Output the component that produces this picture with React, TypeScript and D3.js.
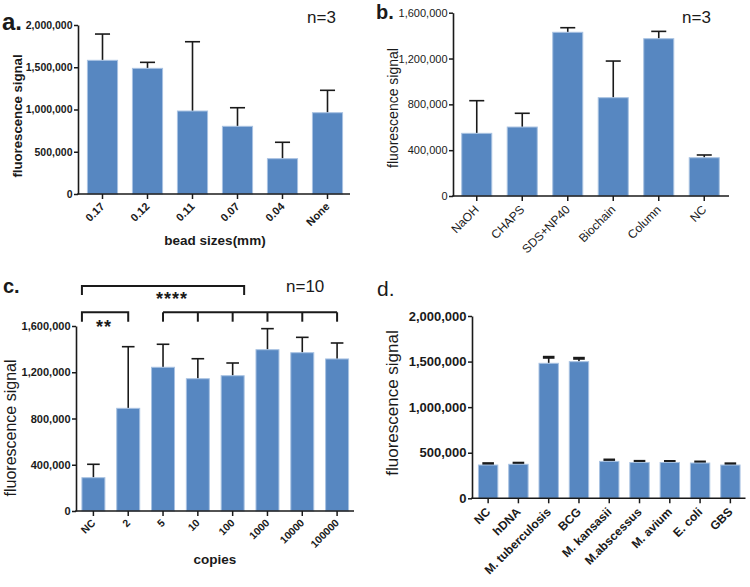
import React, { useRef, useEffect } from "react";
import * as d3 from "d3";

const FONT = "'Liberation Sans', Arial, Helvetica, sans-serif";
const BAR_FILL = "#5787c1";
const BAR_EDGE = "#a8c2e2";
const INK = "#1a1a1a";

// a. bead sizes
const beadSizes = ["0.17", "0.12", "0.11", "0.07", "0.04", "None"];
const beadMeans = [1582000, 1487000, 982000, 801000, 418000, 962000];
const beadSD = [311000, 71000, 820000, 220000, 194000, 265000];
const beadTicks = [0, 500000, 1000000, 1500000, 2000000];

// b. lysis methods
const lysis = ["NaOH", "CHAPS", "SDS+NP40", "Biochain", "Column", "NC"];
const lysisMeans = [547000, 602000, 1429000, 858000, 1373000, 334000];
const lysisSD = [285000, 120000, 40000, 320000, 64000, 24000];
const lysisTicks = [0, 400000, 800000, 1200000, 1600000];

// c. copies
const copies = ["NC", "2", "5", "10", "100", "1000", "10000", "100000"];
const copiesMeans = [288000, 888000, 1243000, 1144000, 1170000, 1395000, 1369000, 1315000];
const copiesSD = [116000, 533000, 199000, 173000, 110000, 182000, 133000, 138000];
const copiesTicks = [0, 400000, 800000, 1200000, 1600000];

// d. specificity
const species = ["NC", "hDNA", "M. tuberculosis", "BCG", "M. kansasii", "M.abscessus", "M. avium", "E. coli", "GBS"];
const speciesMeans = [365000, 373000, 1481000, 1499000, 405000, 393000, 393000, 387000, 365000];
const speciesSD = [15000, 12000, 66000, 37000, 15000, 12000, 11000, 11000, 13000];
const speciesTicks = [0, 500000, 1000000, 1500000, 2000000];

const drawPanel = (svg, cfg) => {
	const g = svg.append("g");

	const x = d3.scaleBand()
		.domain(cfg.cats)
		.range(cfg.band)
		.paddingInner(cfg.pad)
		.paddingOuter(cfg.pad / 2);

	const y = d3.scaleLinear()
		.domain([0, cfg.max])
		.range([cfg.yBase, cfg.yTop]);

	const rows = cfg.cats.map((c, i) => ({ c, m: cfg.means[i], sd: cfg.sd[i] }));

	// error bars first so the bar covers the lower half
	const capW = x.bandwidth() * cfg.capFrac;
	g.selectAll("line.err")
		.data(rows)
		.enter()
		.append("line")
		.attr("x1", d => x(d.c) + x.bandwidth() / 2)
		.attr("x2", d => x(d.c) + x.bandwidth() / 2)
		.attr("y1", d => y(d.m))
		.attr("y2", d => y(d.m + d.sd))
		.attr("stroke", INK)
		.attr("stroke-width", 1.6);

	g.selectAll("line.cap")
		.data(rows)
		.enter()
		.append("line")
		.attr("x1", d => x(d.c) + x.bandwidth() / 2 - capW / 2)
		.attr("x2", d => x(d.c) + x.bandwidth() / 2 + capW / 2)
		.attr("y1", d => y(d.m + d.sd))
		.attr("y2", d => y(d.m + d.sd))
		.attr("stroke", INK)
		.attr("stroke-width", cfg.capStroke);

	g.selectAll("rect.bar")
		.data(rows)
		.enter()
		.append("rect")
		.attr("x", d => x(d.c))
		.attr("y", d => y(d.m))
		.attr("width", x.bandwidth())
		.attr("height", d => cfg.yBase - y(d.m))
		.attr("fill", BAR_FILL)
		.attr("stroke", BAR_EDGE)
		.attr("stroke-width", 1);

	// y axis
	const yAxis = d3.axisLeft(y)
		.tickValues(cfg.yTicks)
		.tickFormat(d3.format(","))
		.tickSize(4)
		.tickSizeOuter(0)
		.tickPadding(1.5);
	const gy = g.append("g")
		.attr("transform", `translate(${cfg.axisX},0)`)
		.call(yAxis);
	gy.select(".domain").attr("stroke", INK).attr("stroke-width", 1.6);
	gy.selectAll("line").attr("stroke", INK).attr("stroke-width", 1.5);
	gy.selectAll("text")
		.attr("fill", INK)
		.style("font-family", FONT)
		.style("font-size", cfg.yTickFs + "px")
		.style("font-weight", cfg.yTickBold ? "bold" : "normal");

	// x axis
	const xAxis = d3.axisBottom(x).tickSize(5).tickSizeOuter(0);
	const gx = g.append("g")
		.attr("transform", `translate(0,${cfg.yBase})`)
		.call(xAxis);
	gx.select(".domain").remove();
	gx.selectAll("line").attr("stroke", INK).attr("stroke-width", 1.5);
	gx.selectAll("text")
		.attr("fill", INK)
		.attr("x", 0)
		.attr("y", 0)
		.attr("dy", 0)
		.attr("text-anchor", "end")
		.attr("transform", `translate(${cfg.xTickFs * 0.25},${cfg.xTickFs * 1.2}) rotate(-45)`)
		.style("font-family", FONT)
		.style("font-size", cfg.xTickFs + "px")
		.style("font-weight", cfg.xTickBold ? "bold" : "normal");

	g.append("line")
		.attr("x1", cfg.axisX - 0.8)
		.attr("x2", cfg.axisEnd)
		.attr("y1", cfg.yBase)
		.attr("y2", cfg.yBase)
		.attr("stroke", INK)
		.attr("stroke-width", 1.6);

	// y title
	g.append("text")
		.attr("transform", `translate(${cfg.yTitle[0]},${cfg.yTitle[1]}) rotate(-90)`)
		.attr("text-anchor", "middle")
		.style("font-family", FONT)
		.style("font-size", cfg.yTitleFs + "px")
		.style("font-weight", cfg.yTitleBold ? "bold" : "normal")
		.attr("fill", INK)
		.text("fluorescence signal");

	if (cfg.xTitle) {
		g.append("text")
			.attr("x", cfg.xTitle[0])
			.attr("y", cfg.xTitle[1])
			.attr("text-anchor", "middle")
			.style("font-family", FONT)
			.style("font-size", "13.5px")
			.style("font-weight", "bold")
			.attr("fill", INK)
			.text(cfg.xTitleText);
	}

	// panel letter
	g.append("text")
		.attr("x", cfg.letter[0])
		.attr("y", cfg.letter[1])
		.style("font-family", FONT)
		.style("font-size", cfg.letterFs + "px")
		.style("font-weight", cfg.letterBold ? "bold" : "normal")
		.attr("fill", INK)
		.text(cfg.letterText);

	if (cfg.nText) {
		g.append("text")
			.attr("x", cfg.nPos[0])
			.attr("y", cfg.nPos[1])
			.style("font-family", FONT)
			.style("font-size", "17px")
			.attr("fill", INK)
			.text(cfg.nText);
	}

	return { x, y, g };
};

const Figure = () => {
	const figSvg = useRef(null);

	useEffect(() => {
		const svg = d3.select(figSvg.current);
		svg.selectAll("*").remove();

		drawPanel(svg, {
			cats: beadSizes, means: beadMeans, sd: beadSD, yTicks: beadTicks, max: 2000000,
			band: [80, 350], pad: 0.33, yTop: 25, yBase: 194, axisX: 78, axisEnd: 350,
			capFrac: 0.5, capStroke: 1.6,
			yTickFs: 10.5, yTickBold: true, xTickFs: 11, xTickBold: true,
			yTitle: [22, 116], yTitleFs: 13.2, yTitleBold: true,
			xTitle: [215, 245], xTitleText: "bead sizes(mm)",
			letter: [2, 30], letterFs: 24, letterBold: true, letterText: "a.",
			nText: "n=3", nPos: [307, 23],
		});

		drawPanel(svg, {
			cats: lysis, means: lysisMeans, sd: lysisSD, yTicks: lysisTicks, max: 1600000,
			band: [454, 727], pad: 0.34, yTop: 12.7, yBase: 196, axisX: 453, axisEnd: 729,
			capFrac: 0.5, capStroke: 1.6,
			yTickFs: 11, yTickBold: false, xTickFs: 12, xTickBold: false,
			yTitle: [398, 108], yTitleFs: 14, yTitleBold: false,
			letter: [376, 19], letterFs: 20, letterBold: true, letterText: "b.",
			nText: "n=3", nPos: [682, 23],
		});

		const c = drawPanel(svg, {
			cats: copies, means: copiesMeans, sd: copiesSD, yTicks: copiesTicks, max: 1600000,
			band: [76, 354.5], pad: 0.34, yTop: 326, yBase: 511, axisX: 76, axisEnd: 354,
			capFrac: 0.55, capStroke: 1.6,
			yTickFs: 11, yTickBold: true, xTickFs: 10.5, xTickBold: true,
			yTitle: [15.5, 428], yTitleFs: 16, yTitleBold: false,
			xTitle: [215, 564], xTitleText: "copies",
			letter: [3, 293], letterFs: 20, letterBold: true, letterText: "c.",
			nText: "n=10", nPos: [286, 292],
		});

		// significance brackets for c
		const cx = d => c.x(d) + c.x.bandwidth() / 2;
		const bk = c.g.append("g")
			.attr("fill", "none")
			.attr("stroke", INK)
			.attr("stroke-width", 2);

		const topL = c.x("NC");
		const topR = c.x("100") + c.x.bandwidth();
		bk.append("path").attr("d", `M${topL},295 V286 H${topR} V295`);

		const lowL = c.x("NC");
		const lowR = cx("2");
		bk.append("path").attr("d", `M${lowL},321.7 V312.3 H${lowR} V321.7`);

		const groupCats = copies.slice(2);
		bk.append("line")
			.attr("x1", cx(groupCats[0]))
			.attr("x2", cx(groupCats[groupCats.length - 1]))
			.attr("y1", 312.3)
			.attr("y2", 312.3);
		bk.selectAll("line.leg")
			.data(groupCats)
			.enter()
			.append("line")
			.attr("x1", d => cx(d))
			.attr("x2", d => cx(d))
			.attr("y1", 312.3)
			.attr("y2", 321.7);

		c.g.append("text")
			.attr("x", 172)
			.attr("y", 305)
			.attr("text-anchor", "middle")
			.style("font-family", FONT)
			.style("font-size", "18px")
			.style("font-weight", "bold")
			.style("letter-spacing", "1px")
			.attr("fill", INK)
			.text("****");

		c.g.append("text")
			.attr("x", 104)
			.attr("y", 333)
			.attr("text-anchor", "middle")
			.style("font-family", FONT)
			.style("font-size", "18px")
			.style("font-weight", "bold")
			.style("letter-spacing", "1px")
			.attr("fill", INK)
			.text("**");

		drawPanel(svg, {
			cats: species, means: speciesMeans, sd: speciesSD, yTicks: speciesTicks, max: 2000000,
			band: [473, 745.5], pad: 0.36, yTop: 316, yBase: 498.3, axisX: 472, axisEnd: 745.5,
			capFrac: 0.6, capStroke: 3,
			yTickFs: 13, yTickBold: true, xTickFs: 12, xTickBold: true,
			yTitle: [398, 403], yTitleFs: 17, yTitleBold: false,
			letter: [377, 296], letterFs: 21, letterBold: false, letterText: "d.",
		});
	}, []);

	return (
		<svg ref={figSvg} width={750} height={587}
			style={{ position: "absolute", left: 0, top: 0, background: "#fff" }}>
		</svg>
	);
};

export default function App() {
	return <Figure />;
}
